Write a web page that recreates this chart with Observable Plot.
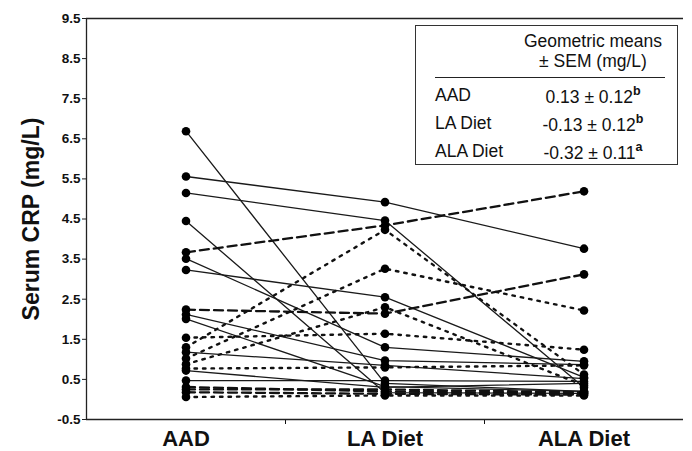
<!DOCTYPE html>
<html>
<head>
<meta charset="utf-8">
<script src="https://cdn.jsdelivr.net/npm/d3@7"></script>
<script src="https://cdn.jsdelivr.net/npm/@observablehq/plot@0.6"></script>
<style>
  html, body { margin: 0; padding: 0; background: #fff; }
  #wrap { position: relative; width: 692px; height: 451px; font-family: "Liberation Sans", Arial, sans-serif; color: #111; }
  #ytitle { position: absolute; left: 31px; top: 219px; transform: translate(-50%, -50%) rotate(-90deg); white-space: nowrap; font-weight: bold; font-size: 23px; }
  #inset { position: absolute; left: 415px; top: 25px; width: 263px; height: 140px; border: 1.5px solid #333; box-sizing: border-box; background: #fff; font-size: 17.5px; }
  #inset .hdr { position: absolute; left: 97px; width: 160px; text-align: center; line-height: 20px; }
  #inset .rule { position: absolute; left: 19px; right: 12px; top: 51px; border-top: 1.5px solid #222; }
  #inset .lab { position: absolute; left: 19px; }
  #inset .val { position: absolute; left: 97px; width: 160px; text-align: center; }
  #inset sup { font-weight: bold; font-size: 12.5px; position: relative; top: -1px; }
</style>
</head>
<body>
<div id="wrap">
  <div id="chart"></div>
  <div id="ytitle">Serum CRP (mg/L)</div>
  <div id="inset"></div>
</div>
<script>
// ---- data ----
const categories = ["AAD", "LA Diet", "ALA Diet"];
const yTicks = [-0.5, 0.5, 1.5, 2.5, 3.5, 4.5, 5.5, 6.5, 7.5, 8.5, 9.5];

// one entry per subject
const aadValues = [6.69, 5.56, 5.15, 4.45, 3.67, 3.51, 3.23, 2.24, 2.12, 2.01, 1.54, 1.30, 1.02, 1.18, 0.77, 0.72, 0.88, 0.31, 0.18, 0.06, 0.47, 0.25];
const laValues  = [0.40, 4.92, 4.46, 0.17, 4.34, 1.30, 2.55, 2.14, 0.97, 0.32, 1.64, 4.23, 3.26, 0.85, 0.80, 0.30, 2.30, 0.20, 0.14, 0.10, 0.47, 0.25];
const alaValues = [0.20, 3.76, 0.30, 0.15, 5.19, 0.95, 0.55, 3.12, 0.87, 0.20, 1.24, 0.62, 2.22, 0.52, 0.85, 0.40, 0.35, 0.15, 0.12, 0.10, 0.45, 0.18];
const lineStyles = ["solid","solid","solid","solid","dashed","solid","solid","dashed","solid","solid","dotted","dotted","dotted","solid","dotted","solid","dotted","dashed","dashed","dotted","solid","dashed"];

const tableRows = ["AAD", "LA Diet", "ALA Diet"];
const tableValues = ["0.13 ± 0.12", "-0.13 ± 0.12", "-0.32 ± 0.11"];
const tableSup = ["b", "b", "a"];
const tableHeader = ["Geometric means", "± SEM (mg/L)"];

// ---- build long table ----
const long = [];
aadValues.forEach((_, i) => {
  [aadValues[i], laValues[i], alaValues[i]].forEach((v, j) => {
    long.push({subject: i, phase: j, value: v, style: lineStyles[i]});
  });
});

const styleOpts = {
  solid:  {stroke: "#1a1a1a", strokeWidth: 1.3},
  dashed: {stroke: "#111", strokeWidth: 2.3, strokeDasharray: "9,5"},
  dotted: {stroke: "#111", strokeWidth: 2.4, strokeDasharray: "2.5,6"}
};

const lineMarks = Object.keys(styleOpts).map(s =>
  Plot.line(long.filter(d => d.style === s), {x: "phase", y: "value", z: "subject", ...styleOpts[s]})
);

const chart = Plot.plot({
  width: 692,
  height: 451,
  marginLeft: 86,
  marginRight: 9,
  marginTop: 18,
  marginBottom: 32,
  style: {fontFamily: "'Liberation Sans', Arial, sans-serif", color: "#111", background: "#fff"},
  x: {type: "linear", domain: [-0.5, 2.5]},
  y: {type: "linear", domain: [-0.5, 9.5]},
  marks: [
    Plot.axisY({ticks: yTicks, tickFormat: d => d.toFixed(1), tickSize: 4, tickPadding: 2, label: null, fontSize: 13.5, fontWeight: "bold", stroke: "#222"}),
    Plot.axisX({ticks: [0.5, 1.5], tickFormat: () => "", tickSize: 5, label: null}),
    Plot.axisX({ticks: [0, 1, 2], tickFormat: i => categories[i], tickSize: 0, tickPadding: 11, label: null, fontSize: 22, fontWeight: "bold"}),
    Plot.ruleX([-0.5], {stroke: "#222", strokeWidth: 1.3}),
    Plot.ruleY([-0.5, 9.5], {stroke: "#222", strokeWidth: 1.3}),
    ...lineMarks,
    Plot.dot(long, {x: "phase", y: "value", r: 4.3, fill: "#000", stroke: "none"})
  ]
});
document.getElementById("chart").appendChild(chart);

// ---- inset table ----
const inset = document.getElementById("inset");
tableHeader.forEach((t, i) => {
  const d = document.createElement("div");
  d.className = "hdr";
  d.style.top = (5 + i * 20) + "px";
  d.textContent = t;
  inset.appendChild(d);
});
const rule = document.createElement("div");
rule.className = "rule";
inset.appendChild(rule);
tableRows.forEach((r, i) => {
  const top = 59 + i * 28;
  const l = document.createElement("div");
  l.className = "lab"; l.style.top = top + "px"; l.textContent = r;
  inset.appendChild(l);
  const v = document.createElement("div");
  v.className = "val"; v.style.top = top + "px";
  v.appendChild(document.createTextNode(tableValues[i]));
  const s = document.createElement("sup"); s.textContent = tableSup[i];
  v.appendChild(s);
  inset.appendChild(v);
});
</script>
</body>
</html>
